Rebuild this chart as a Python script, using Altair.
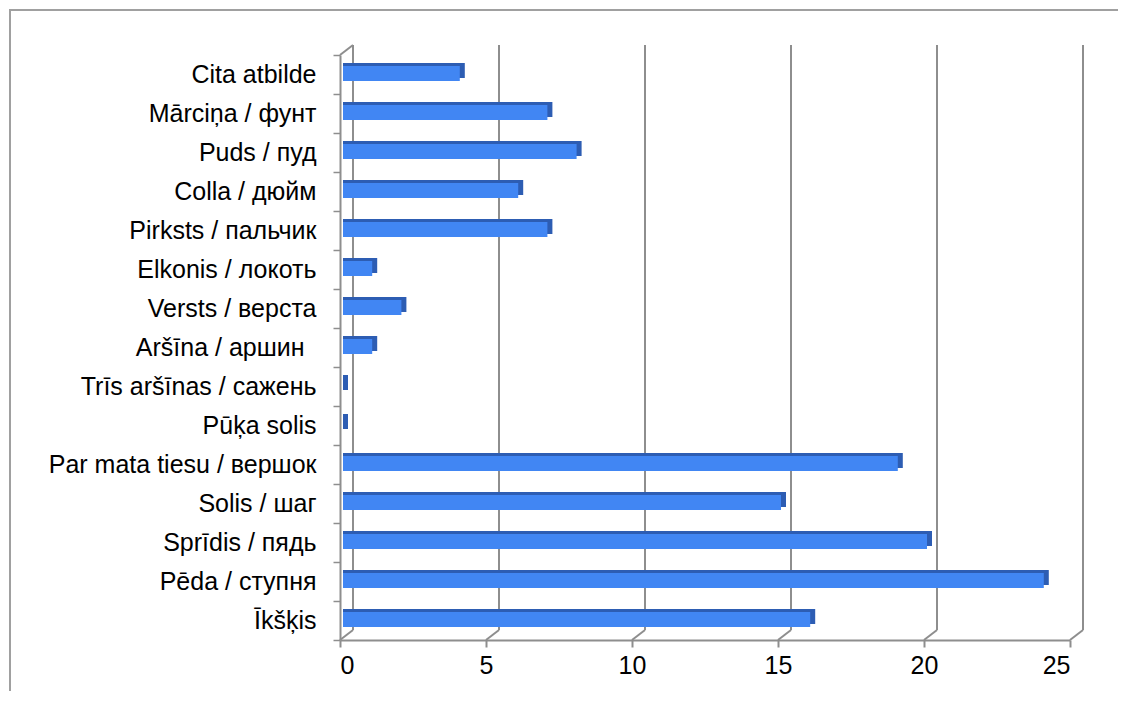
import altair as alt
import pandas as pd

categories = [
    "Cita atbilde", "Mārciņa / фунт", "Puds / пуд", "Colla / дюйм",
    "Pirksts / пальчик", "Elkonis / локоть", "Versts / верста",
    "Aršīna / аршин\u00a0\u2009\u200b", "Trīs aršīnas / сажень", "Pūķa solis",
    "Par mata tiesu / вершок", "Solis / шаг", "Sprīdis / пядь",
    "Pēda / ступня", "Īkšķis",
]
values = [4, 7, 8, 6, 7, 1, 2, 1, 0, 0, 19, 15, 20, 24, 16]
x_ticks = [0, 5, 10, 15, 20, 25]

df = pd.DataFrame({"cat": categories, "v": values})
grid = pd.DataFrame({"g": x_ticks})
one = pd.DataFrame({"a": [0]})

W, H = 730, 585
GRID = "#8e8e8e"
FONT = "Liberation Sans, Arial, sans-serif"

xscale = alt.Scale(domain=[0, 25], nice=False, zero=True)
yscale = alt.Scale(domain=categories, paddingInner=0, paddingOuter=0)

border_top = alt.Chart(one).mark_rule(color="#a0a0a0", strokeWidth=2).encode(
    x=alt.value(-331), x2=alt.value(778), y=alt.value(-45)
)
border_left = alt.Chart(one).mark_rect(color="#a0a0a0").encode(
    x=alt.value(-331), x2=alt.value(-329), y=alt.value(-46), y2=alt.value(636)
)

back_lines = alt.Chart(grid).mark_rule(
    color=GRID, strokeWidth=2, xOffset=13
).encode(
    x=alt.X("g:Q", scale=xscale), y=alt.value(-10), y2=alt.value(575)
)

slants = alt.Chart(grid).mark_rule(
    color=GRID, strokeWidth=2, x2Offset=13
).encode(
    x=alt.X("g:Q", scale=xscale), x2="g:Q", y=alt.value(585), y2=alt.value(575)
)

top_slant = alt.Chart(grid[grid.g == 0]).mark_rule(
    color=GRID, strokeWidth=2, x2Offset=13
).encode(
    x=alt.X("g:Q", scale=xscale), x2="g:Q", y=alt.value(0), y2=alt.value(-10)
)

bars_back = alt.Chart(df).mark_bar(
    color="#2d5db3", size=15, yOffset=-4, y2Offset=-4, xOffset=8, x2Offset=3
).encode(
    x=alt.X("v:Q", scale=xscale),
    x2=alt.datum(0),
    y=alt.Y("cat:N", scale=yscale, sort=categories),
)

bars_front = alt.Chart(df).mark_bar(
    color="#4186f3", size=15, yOffset=-1, y2Offset=-1, xOffset=3, x2Offset=3
).encode(
    x=alt.X(
        "v:Q", scale=xscale, title=None,
        axis=alt.Axis(
            values=x_ticks, grid=False, domainColor=GRID, domainWidth=2,
            tickColor=GRID, tickWidth=2, tickSize=7, labelFontSize=25,
            labelFont=FONT, labelColor="#000000", labelPadding=6,
        ),
    ),
    x2=alt.datum(0),
    y=alt.Y(
        "cat:N", scale=yscale, sort=categories, title=None,
        axis=alt.Axis(
            domainColor=GRID, domainWidth=2, tickColor=GRID, tickWidth=1.5,
            tickSize=7, tickBand="extent", labelFontSize=25, labelFont=FONT,
            labelColor="#000000", labelPadding=17, labelLimit=400,
        ),
    ),
)

chart = alt.layer(
    border_top, border_left, back_lines, slants, top_slant, bars_back, bars_front
).properties(
    width=W, height=H,
    autosize=alt.AutoSizeParams(type="none"),
    padding={"left": 332, "top": 47, "right": 50, "bottom": 52},
    background="white",
).configure_view(stroke=None)

chart.save("out.html", embed_options={"renderer": "svg", "actions": False})
